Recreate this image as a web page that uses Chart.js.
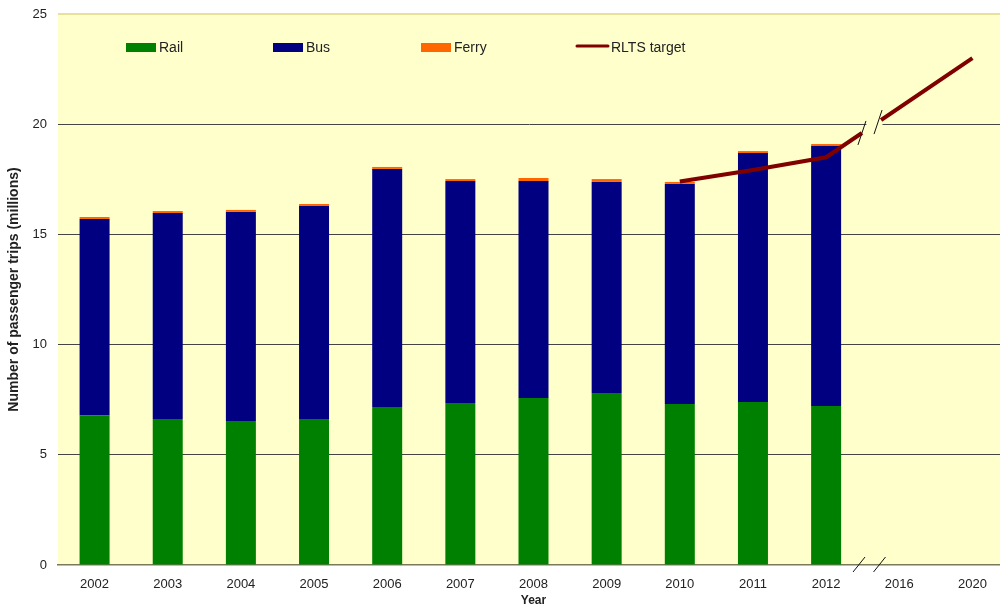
<!DOCTYPE html>
<html>
<head>
<meta charset="utf-8">
<script src="https://cdn.jsdelivr.net/npm/chart.js@4/dist/chart.umd.min.js"></script>
<style>
  html, body { margin: 0; padding: 0; background: #ffffff; }
  #wrap { width: 1000px; height: 608px; }
</style>
</head>
<body>
<div id="wrap"><canvas id="TripsChart"></canvas></div>
<script>
const years = ['2002', '2003', '2004', '2005', '2006', '2007', '2008', '2009', '2010', '2011', '2012', '2016', '2020'];
const railTrips = [6.78, 6.62, 6.53, 6.62, 7.17, 7.35, 7.58, 7.80, 7.30, 7.40, 7.21, null, null];
const busTrips = [8.92, 9.35, 9.49, 9.67, 10.80, 10.07, 9.84, 9.58, 9.99, 11.29, 11.80, null, null];
const ferryTrips = [0.09, 0.09, 0.09, 0.09, 0.09, 0.09, 0.14, 0.13, 0.09, 0.09, 0.09, null, null];
const rltsTarget = [null, null, null, null, null, null, null, null, 17.4, 17.92, 18.5, null, 23.0];
const yTicks = [0, 5, 10, 15, 20, 25];

Chart.defaults.font.family = '"Liberation Sans", Arial, sans-serif';
Chart.defaults.color = '#222222';

// plot area: top at 14px, and it runs a little past the right edge of the picture
const fixArea = {
    id: 'fixArea',
    afterLayout(chart) {
        const extraRight = 9;
        const area = chart.chartArea;
        const x = chart.scales.x, y = chart.scales.y;
        x.right += extraRight;
        x.width += extraRight;
        area.right += extraRight;
        area.width += extraRight;
        const extraTop = area.top - 14;
        y.top -= extraTop;
        y.height += extraTop;
        area.top -= extraTop;
        area.height += extraTop;
        x.configure();
        y.configure();
    }
};

// yellow plot area + top border
const plotBackground = {
    id: 'plotBackground',
    beforeDraw(chart) {
        const { ctx, chartArea: a } = chart;
        ctx.save();
        ctx.fillStyle = '#FFFFCC';
        ctx.fillRect(a.left, a.top, a.right - a.left, a.bottom - a.top);
        ctx.strokeStyle = '#E6E29A';
        ctx.lineWidth = 2;
        ctx.beginPath();
        ctx.moveTo(a.left, a.top);
        ctx.lineTo(a.right, a.top);
        ctx.stroke();
        ctx.restore();
    }
};

// axis break between 2012 and 2016
const axisBreak = {
    id: 'axisBreak',
    afterDatasetsDraw(chart) {
        const { ctx, chartArea: a } = chart;
        const x = chart.scales.x, y = chart.scales.y;
        const step = x.getPixelForValue(11) - x.getPixelForValue(10);
        const x0 = x.getPixelForValue(10), y0 = y.getPixelForValue(rltsTarget[10]);
        const x1 = x.getPixelForValue(12), y1 = y.getPixelForValue(rltsTarget[12]);
        const lineY = px => y0 + (y1 - y0) * (px - x0) / (x1 - x0);
        const bx = [x0 + step * 0.49, x0 + step * 0.71];
        ctx.save();
        // gap in the target line
        ctx.strokeStyle = '#FFFFCC';
        ctx.lineWidth = 9;
        ctx.beginPath();
        ctx.moveTo(bx[0], lineY(bx[0]));
        ctx.lineTo(bx[1] + 3, lineY(bx[1] + 3));
        ctx.stroke();
        ctx.strokeStyle = '#111111';
        ctx.lineWidth = 1;
        bx.forEach(px => {
            const ly = lineY(px);
            ctx.beginPath();
            ctx.moveTo(px - 4, ly + 12);
            ctx.lineTo(px + 4, ly - 12);
            ctx.stroke();
        });
        [x0 + step * 0.45, x0 + step * 0.73].forEach(px => {
            ctx.beginPath();
            ctx.moveTo(px - 6, a.bottom + 7);
            ctx.lineTo(px + 6, a.bottom - 8);
            ctx.stroke();
        });
        ctx.restore();
    }
};

// legend inside the plot area
const innerLegend = {
    id: 'innerLegend',
    afterDraw(chart) {
        const { ctx, chartArea: a } = chart;
        const offsets = [68, 215, 363, 518];
        const cy = a.top + 33;
        ctx.save();
        ctx.font = '14px "Liberation Sans", Arial, sans-serif';
        ctx.textBaseline = 'middle';
        chart.data.datasets.forEach((ds, i) => {
            const lx = a.left + offsets[i];
            if (ds.type === 'line') {
                ctx.strokeStyle = ds.borderColor;
                ctx.lineWidth = 3;
                ctx.lineCap = 'round';
                ctx.beginPath();
                ctx.moveTo(lx + 1, cy - 1);
                ctx.lineTo(lx + 32, cy - 1);
                ctx.stroke();
                ctx.fillStyle = '#222222';
                ctx.fillText(ds.label, lx + 35, cy + 1);
            } else {
                ctx.fillStyle = ds.backgroundColor;
                ctx.fillRect(lx, cy - 4, 30, 9);
                ctx.fillStyle = '#222222';
                ctx.fillText(ds.label, lx + 33, cy + 1);
            }
        });
        ctx.restore();
    }
};

const ctxTrips = document.getElementById('TripsChart');
const dataTrips = {
    labels: years,
    datasets: [
        {
            label: 'Rail',
            data: railTrips,
            backgroundColor: '#008000',
            stack: 'trips',
            order: 2
        },
        {
            label: 'Bus',
            data: busTrips,
            backgroundColor: '#000080',
            stack: 'trips',
            order: 2
        },
        {
            label: 'Ferry',
            data: ferryTrips,
            backgroundColor: '#FF6600',
            stack: 'trips',
            order: 2
        },
        {
            type: 'line',
            label: 'RLTS target',
            data: rltsTarget,
            borderColor: '#800000',
            borderWidth: 4,
            pointRadius: 0,
            spanGaps: true,
            tension: 0,
            order: 1
        }
    ]
};
const configTrips = {
    type: 'bar',
    data: dataTrips,
    options: {
        responsive: true,
        maintainAspectRatio: false,
        animation: false,
        layout: { padding: { left: 0, right: 0, top: 10, bottom: 0 } },
        datasets: {
            bar: { barPercentage: 0.41, categoryPercentage: 1 }
        },
        plugins: {
            legend: { display: false },
            tooltip: { enabled: false }
        },
        scales: {
            x: {
                stacked: true,
                grid: { display: false, drawTicks: false },
                border: { display: true, color: '#7A7A5A', width: 1.5 },
                ticks: { font: { size: 13 }, padding: 12, maxRotation: 0, autoSkip: false },
                title: { display: true, text: 'Year', font: { size: 12, weight: 'bold' }, padding: 0 },
                afterFit(scale) { scale.height = 43; }
            },
            y: {
                stacked: true,
                min: 0,
                max: 25,
                afterBuildTicks(scale) { scale.ticks = yTicks.map(v => ({ value: v })); },
                grid: {
                    drawTicks: false,
                    color: ctx => (ctx.tick && (ctx.tick.value === 0 || ctx.tick.value === 25)) ? 'rgba(0,0,0,0)' : '#444444',
                    lineWidth: 1
                },
                border: { display: false },
                ticks: { font: { size: 13 }, padding: 11 },
                title: {
                    display: true,
                    text: 'Number of passenger trips (millions)',
                    font: { size: 14, weight: 'bold' },
                    padding: { top: 6, bottom: 0 }
                },
                afterFit(scale) { scale.width = 58; }
            }
        }
    },
    plugins: [fixArea, plotBackground, axisBreak, innerLegend]
};
new Chart(ctxTrips, configTrips);
</script>
</body>
</html>
